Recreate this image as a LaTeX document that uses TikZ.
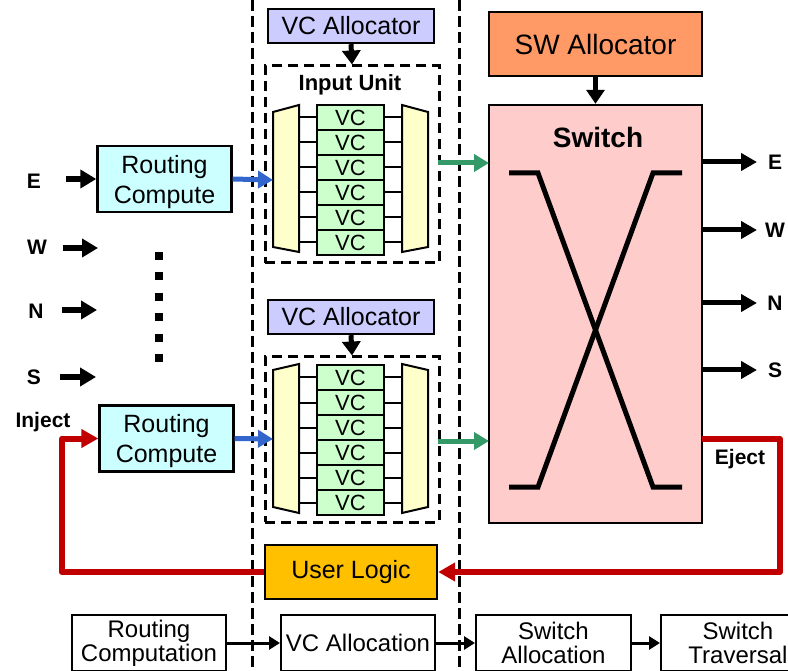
\documentclass[tikz,border=0pt]{standalone}
\usepackage{fontspec}
\setmainfont{Liberation Sans}
\usetikzlibrary{arrows.meta}

\definecolor{vcaFill}{HTML}{CCCCFF}
\definecolor{rcFill}{HTML}{CCFFFF}
\definecolor{vcFill}{HTML}{CCFFCC}
\definecolor{muxFill}{HTML}{FFFFCC}
\definecolor{swFill}{HTML}{FFCCCC}
\definecolor{swaFill}{HTML}{FF9966}
\definecolor{ulFill}{HTML}{FFC000}
\definecolor{blueArr}{HTML}{3366CC}
\definecolor{greenArr}{HTML}{339966}
\definecolor{redLine}{HTML}{C00000}

\newcommand{\fsz}[2]{\fontsize{#1}{#2}\selectfont}

\begin{document}
\begin{tikzpicture}[x=1pt,y=-1pt,
  box/.style={draw=black, line width=2.4pt, inner sep=0pt, align=center},
  vcabox/.style={box, fill=vcaFill, minimum width=166pt, minimum height=34pt, font=\fsz{25}{30}},
  rcbox/.style={box, fill=rcFill, minimum width=134pt, minimum height=66pt},
  rctext/.style={inner sep=0pt, align=center, font=\fsz{25}{30}},
  vccell/.style={box, line width=2pt, fill=vcFill, minimum width=67pt, minimum height=25pt, font=\fsz{22}{22}},
  pipebox/.style={box, line width=2pt, fill=white, minimum width=154pt, minimum height=56pt, font=\fsz{24}{24}},
  mux/.style={draw=black, line width=2pt, fill=muxFill, line join=miter},
  tick/.style={draw=black, line width=2pt},
  unitbox/.style={draw=black, line width=3pt, dash pattern=on 10pt off 6pt},
  stageline/.style={draw=black, line width=3pt, dash pattern=on 11pt off 5pt},
  dirlbl/.style={font=\fsz{21}{21}\bfseries, inner sep=0pt},
  bigarrow/.style={line width=5.5pt, -{Triangle[length=16pt,width=18pt]}},
  outarrow/.style={line width=5pt, -{Triangle[length=16pt,width=17pt]}},
  downarrow/.style={line width=5pt, -{Triangle[length=14pt,width=18pt]}},
  bluearrow/.style={draw=blueArr, line width=5pt, -{Triangle[length=15pt,width=17pt]}},
  greenarrow/.style={draw=greenArr, line width=5pt, -{Triangle[length=15pt,width=17pt]}},
  redpath/.style={draw=redLine, line width=6pt, line join=round, -{Triangle[length=17pt,width=18pt]}},
  pipearrow/.style={line width=3pt, -{Triangle[length=11pt,width=13pt]}},
  xline/.style={draw=black, line width=5pt, line join=miter},
]
\useasboundingbox (0,0) rectangle (788,671);
\clip (0,0) rectangle (788,671);

% pipeline stage separators
\coordinate (sepAtop) at (252,0);
\coordinate (sepAbot) at (252,671);
\coordinate (sepBtop) at (459,0);
\coordinate (sepBbot) at (459,671);
\draw[stageline] (sepAtop) -- (sepAbot);
\draw[stageline] (sepBtop) -- (sepBbot);

% ---------- upper input port ----------
\node[vcabox] (vcaA) at (351,26) {VC Allocator};
\node[unitbox, minimum width=174pt, minimum height=197pt, inner sep=0pt] (iuA) at (352,164.5) {};
\node[font=\fsz{22}{22}\bfseries] (iuAlbl) at (350,85) {Input Unit};
\draw[downarrow] (vcaA.south) -- (iuA.north);

\draw[mux] (273,112) -- (299,105) -- (299,252) -- (273,247) -- cycle;
\draw[mux] (402,105) -- (428,112) -- (428,247) -- (402,252) -- cycle;
\coordinate (dmAin) at (273,180);
\coordinate (mxAout) at (438,163);
\foreach \i in {1,...,6} {
  \node[vccell] (vcA\i) at (350.5,92.5+25*\i) {VC};
  \draw[tick] (vcA\i.west) -- ++(-18,0);
  \draw[tick] (vcA\i.east) -- ++(18,0);
}

% ---------- lower input port ----------
\node[vcabox] (vcaB) at (351,317) {VC Allocator};
\node[unitbox, minimum width=174pt, minimum height=165pt, inner sep=0pt] (iuB) at (352,439.5) {};
\draw[downarrow] (vcaB.south) -- (iuB.north);

\draw[mux] (273,370) -- (299,364) -- (299,513) -- (273,507) -- cycle;
\draw[mux] (402,364) -- (428,370) -- (428,507) -- (402,513) -- cycle;
\coordinate (dmBin) at (273,439);
\coordinate (mxBout) at (438,441);
\foreach \i in {1,...,6} {
  \node[vccell] (vcB\i) at (350.5,352.5+25*\i) {VC};
  \draw[tick] (vcB\i.west) -- ++(-18,0);
  \draw[tick] (vcB\i.east) -- ++(18,0);
}

% ---------- routing compute ----------
\node[rcbox] (rcA) at (164.5,179) {};
\node[rctext] (rcAtxt) at ([yshift=-3pt]rcA.center) {Routing\\Compute};
\node[rcbox] (rcB) at (166.5,438.5) {};
\node[rctext] (rcBtxt) at ([yshift=-3pt]rcB.center) {Routing\\Compute};
\draw[bluearrow] (rcA.east) -- (dmAin);
\draw[bluearrow] (rcB.east) -- (dmBin);

% input directions
\node[dirlbl] (inE) at (34,181) {E};
\node[dirlbl] (inW) at (37,247) {W};
\node[dirlbl] (inN) at (36,311) {N};
\node[dirlbl] (inS) at (34,377) {S};
\coordinate (aE0) at (66,179);
\coordinate (aW0) at (63,248);   \coordinate (aW1) at (98,248);
\coordinate (aN0) at (62,310);   \coordinate (aN1) at (97,310);
\coordinate (aS0) at (60,377);   \coordinate (aS1) at (96,377);
\draw[bigarrow] (aE0) -- (rcA.west);
\draw[bigarrow] (aW0) -- (aW1);
\draw[bigarrow] (aN0) -- (aN1);
\draw[bigarrow] (aS0) -- (aS1);

% ellipsis between ports
\foreach \k in {0,...,5}
  \fill (159-4,256+20.4*\k-4) rectangle ++(8,8);

% ---------- switch ----------
\node[box, fill=swaFill, minimum width=213pt, minimum height=64pt, font=\fsz{28}{28}] (swa) at (595.5,44) {SW Allocator};
\node[box, fill=swFill, minimum width=213pt, minimum height=418pt] (sw) at (595.5,314) {};
\node[font=\fsz{28}{28}\bfseries] (swlbl) at (598,137) {Switch};
\draw[downarrow] (swa.south) -- (sw.north);

\draw[xline] (509,173) -- (538,173) -- (653,487) -- (682,487);
\draw[xline] (682,173) -- (653,173) -- (538,487) -- (509,487);

\coordinate (swinA) at (489,163);
\coordinate (swinB) at (489,441);
\draw[greenarrow] (mxAout) -- (swinA);
\draw[greenarrow] (mxBout) -- (swinB);

% output directions
\foreach \y/\d/\n in {162/E/oE, 230/W/oW, 303/N/oN, 370/S/oS} {
  \coordinate (\n0) at (702,\y);
  \coordinate (\n1) at (757,\y);
  \draw[outarrow] (\n0) -- (\n1);
  \node[dirlbl] (\n lbl) at (775,\y) {\d};
}

% ---------- user logic loop ----------
\node[box, fill=ulFill, minimum width=172pt, minimum height=54pt, font=\fsz{25}{25}] (ul) at (351,572) {User Logic};
\coordinate (ej) at (702,439);
\draw[redpath] (ej) -- ++(78,0) |- (ul.east);
\draw[redpath] (ul.west) -- ++(-202,0) |- (rcB.west);
\node[dirlbl] (ejlbl) at (740,459) {Eject};
\node[dirlbl] (injlbl) at (43,422) {Inject};

% ---------- router pipeline ----------
\node[pipebox] (pRC) at (149,643) {Routing\\Computation};
\node[pipebox] (pVA) at (358,643) {VC Allocation};
\node[pipebox, minimum width=155pt] (pSA) at (553.5,643) {Switch\\Allocation};
\node[pipebox] (pST) at (738,643) {Switch\\Traversal};
\draw[pipearrow] (pRC.east) -- (pVA.west);
\draw[pipearrow] (pVA.east) -- (pSA.west);
\draw[pipearrow] (pSA.east) -- (pST.west);
\end{tikzpicture}
\end{document}
